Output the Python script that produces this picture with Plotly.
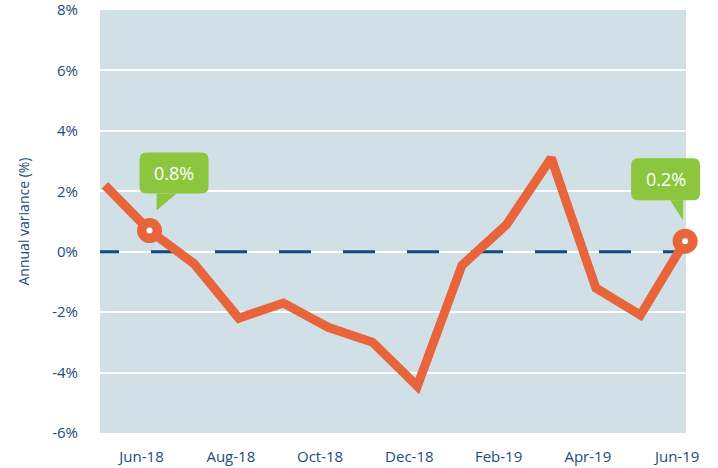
import plotly.graph_objects as go

# ---------------- data ----------------
months = ["May-18", "Jun-18", "Jul-18", "Aug-18", "Sep-18", "Oct-18", "Nov-18",
          "Dec-18", "Jan-19", "Feb-19", "Mar-19", "Apr-19", "May-19", "Jun-19"]
variance = [2.2, 0.7, -0.4, -2.2, -1.7, -2.5, -3.0, -4.45, -0.45, 0.9, 3.1, -1.2, -2.1, 0.35]
x_tick_labels = ["Jun-18", "Aug-18", "Oct-18", "Dec-18", "Feb-19", "Apr-19", "Jun-19"]
y_tick_values = [-6, -4, -2, 0, 2, 4, 6, 8]
y_tick_labels = ["-6%", "-4%", "-2%", "0%", "2%", "4%", "6%", "8%"]
callout_months = ["Jun-18", "Jun-19"]
callout_labels = ["0.8%", "0.2%"]

# ---------------- styling ----------------
ORANGE = "#e8643a"
GREEN = "#8cc63f"
NAVY = "#124a80"
TEXT = "#1a4c7e"
BG = "#d0e0e6"
FONT = "Open Sans"

W, H = 718, 468
L, R, T, B = 100, 686, 10, 433
XR = [-0.11, 13.02]
YR = [-6, 8]

idx = list(range(len(months)))
xtickvals = [months.index(m) for m in x_tick_labels]


def px(i):
    return L + (i - XR[0]) / (XR[1] - XR[0]) * (R - L)


def py(v):
    return B - (v - YR[0]) / (YR[1] - YR[0]) * (B - T)


def to_paper(x, y):
    return (x - L) / (R - L), (B - y) / (B - T)


fig = go.Figure()

# dashed zero reference line (drawn below the series)
dash = "19px,32px" + ",32px,32px" * 10
fig.add_trace(go.Scatter(x=XR, y=[0, 0], mode="lines",
                         line=dict(color=NAVY, width=3, dash=dash),
                         hoverinfo="skip", showlegend=False))

# main series
fig.add_trace(go.Scatter(x=idx, y=variance, mode="lines",
                         line=dict(color=ORANGE, width=9),
                         showlegend=False, cliponaxis=False))

# highlighted points
ci = [months.index(m) for m in callout_months]
cv = [variance[i] for i in ci]
fig.add_trace(go.Scatter(x=ci, y=cv, mode="markers",
                         marker=dict(color=ORANGE, size=25, line=dict(width=0)),
                         showlegend=False, cliponaxis=False))
fig.add_trace(go.Scatter(x=ci, y=cv, mode="markers",
                         marker=dict(color="white", size=6, line=dict(width=0)),
                         showlegend=False, cliponaxis=False))

# callout geometry (pixel offsets relative to the highlighted point)
callout_geom = [
    dict(box=(-10, 59, -78, -37), ptr=[(7, -37), (7, -20), (27, -37)]),
    dict(box=(-54, 15, -83, -41), ptr=[(-15, -41), (-2, -21), (-2, -41)]),
]


def rounded_box_path(x0, x1, y0, y1, r):
    pts = []

    def P(x, y):
        a, b = to_paper(x, y)
        return f"{a:.5f},{b:.5f}"
    pts.append(f"M {P(x0 + r, y0)}")
    pts.append(f"L {P(x1 - r, y0)}")
    pts.append(f"Q {P(x1, y0)} {P(x1, y0 + r)}")
    pts.append(f"L {P(x1, y1 - r)}")
    pts.append(f"Q {P(x1, y1)} {P(x1 - r, y1)}")
    pts.append(f"L {P(x0 + r, y1)}")
    pts.append(f"Q {P(x0, y1)} {P(x0, y1 - r)}")
    pts.append(f"L {P(x0, y0 + r)}")
    pts.append(f"Q {P(x0, y0)} {P(x0 + r, y0)}")
    pts.append("Z")
    return " ".join(pts)


shapes = []
annotations = []
for k, (i, v) in enumerate(zip(ci, cv)):
    cx, cy = px(i), py(v)
    g = callout_geom[k]
    bl, br, bt, bb = g["box"]
    x0, x1, y0, y1 = cx + bl, cx + br, cy + bt, cy + bb
    shapes.append(dict(type="path", xref="paper", yref="paper",
                       path=rounded_box_path(x0, x1, y0, y1, 7),
                       fillcolor=GREEN, line=dict(width=0), layer="above"))
    tri = []
    for j, (dx, dy) in enumerate(g["ptr"]):
        a, b = to_paper(cx + dx, cy + dy)
        tri.append(("M " if j == 0 else "L ") + f"{a:.5f},{b:.5f}")
    shapes.append(dict(type="path", xref="paper", yref="paper",
                       path=" ".join(tri) + " Z",
                       fillcolor=GREEN, line=dict(width=0), layer="above"))
    ax, ay = to_paper((x0 + x1) / 2, (y0 + y1) / 2)
    annotations.append(dict(x=ax, y=ay, xref="paper", yref="paper",
                            text=callout_labels[k], showarrow=False,
                            xanchor="center", yanchor="middle",
                            font=dict(family=FONT, size=18, color="white")))

fig.update_layout(
    width=W, height=H,
    margin=dict(l=L, r=W - R, t=T, b=H - B, autoexpand=False),
    paper_bgcolor="white",
    plot_bgcolor=BG,
    font=dict(family=FONT, color=TEXT, size=15),
    shapes=shapes,
    annotations=annotations,
    showlegend=False,
    xaxis=dict(range=XR, tickvals=xtickvals, ticktext=x_tick_labels,
               showgrid=False, zeroline=False, showline=False, ticks="",
               ticklabelshift=-8, ticklabelstandoff=13,
               tickfont=dict(family=FONT, size=15, color=TEXT), fixedrange=True),
    yaxis=dict(range=YR, tickvals=y_tick_values, ticktext=y_tick_labels,
               showgrid=True, gridcolor="white", gridwidth=2,
               zeroline=True, zerolinecolor="white", zerolinewidth=2,
               showline=False, ticks="", ticklabelstandoff=21,
               ticklabeloverflow="allow",
               tickfont=dict(family=FONT, size=15, color=TEXT),
               title=dict(text="Annual variance (%)", standoff=19,
                          font=dict(family=FONT, size=14, color=TEXT)),
               fixedrange=True),
)

fig.write_html("out.html", config={"displayModeBar": False},
               post_script="document.body.style.margin='0';document.body.style.padding='0';")
